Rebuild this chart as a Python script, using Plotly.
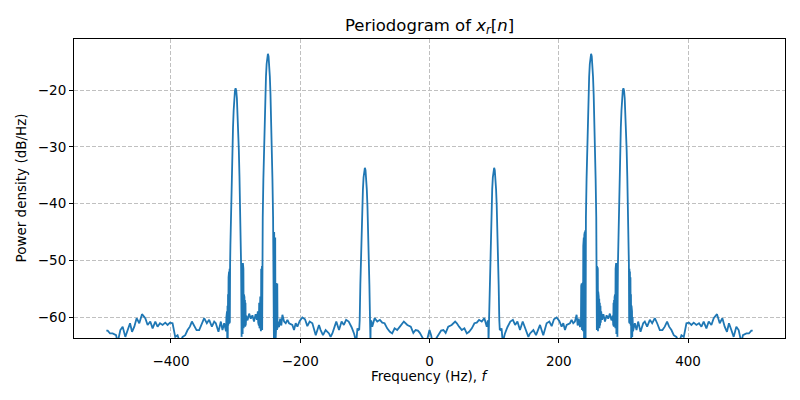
import plotly.graph_objects as go

# Positive-frequency half of the periodogram (spectrum of a real signal is symmetric)
freq_hz_pos = [
    0, 2.5, 4.7, 8, 11.5, 15, 18, 21.5, 25, 29, 34.3, 39.7, 42.3, 45.8, 50, 54, 57.7, 61.3,
    65.5, 69.5, 73.1, 76.7, 80.8, 84.9, 88.6, 90.2, 91.0, 91.3,
    92, 93, 94, 95, 96, 97, 98, 99, 100, 101, 102, 103, 104, 105, 106, 107, 108,
    108.7, 110, 111.5, 113.3, 116.5, 120.5, 125, 129, 132.5, 136, 140, 144.2, 146.8,
    150.3, 153, 155.5, 160.7, 164.8, 168.4, 171, 176, 181.2, 185.4, 189, 192.6, 196.7,
    200.8, 204.4, 207, 209.6, 212.2, 217.3, 219.8, 222.4, 225, 227.6, 229.2, 231, 232.8, 234.3,
    234.7, 235.1, 235.5, 235.9, 236.3, 236.7, 237.1, 237.5,
    237.9, 238.3, 238.7, 239.1, 239.5, 239.9, 240.3, 240.7, 241.1, 241.5, 241.9,
    242, 243, 244, 245, 246, 247, 248, 249, 250, 251, 252, 253, 254, 255, 256, 257, 258,
    258.3, 258.6, 258.9, 259.2, 259.5, 259.8, 260.1, 260.4, 260.7,
    261.0, 261.4, 261.8, 262.2, 262.6, 263.0, 263.5, 264.0, 264.5, 265.0, 265.6,
    267, 269, 271.5, 274, 276.5, 279, 281.5, 283.5,
    284.3, 284.7, 285.1, 285.5, 285.9, 286.3, 286.7, 287.1, 287.5,
    287.9, 288.3, 288.7, 289.1, 289.5, 289.9, 290.3, 290.7,
    291.5, 292, 293, 294, 295, 296, 297, 298, 299, 300, 301, 302, 303, 304, 305, 306, 307, 308, 308.5,
    308.9, 309.3, 309.7, 310.1, 310.5, 310.9, 311.3,
    311.7, 312.1, 312.5, 312.9, 313.3, 313.7, 314.2, 314.8,
    317.7, 320.3, 322.8, 326.5, 330.6, 333.1, 336.7, 340.9, 344.5, 348.6, 352.2, 356.3,
    360.4, 364, 367.6, 370.7, 374.3, 377.9, 382, 386.1, 389.8, 393.4, 397.5, 401.5,
    405.2, 408.8, 412.9, 417, 420.7, 424.2, 428.4, 432, 436.1, 439.7, 444.8, 449,
    453.1, 456.7, 460.2, 463.3, 467, 470.6, 474.7, 478.3, 482.5, 484.9, 490.2, 494.2,
    497.9, 500,
]
psd_db_pos = [
    -62.3, -63.2, -64.5, -64.2, -63.5, -62.8, -62.4, -62.3, -62.8, -61.7, -61.4, -60.8, -61.1, -61.7, -62.3, -62.0, -62.9, -62.6,
    -62.0, -61.1, -61.0, -60.5, -60.8, -60.2, -61.7, -60.6, -61.0, -64.5,
    -60.6, -54.3, -48.8, -44.2, -40.4, -37.5, -35.4, -34.1, -33.7, -34.1, -35.4, -37.5, -40.4, -44.2, -48.8, -54.3, -60.6,
    -62.2, -62.3, -62.0, -64.5, -63.0, -61.8, -60.8, -60.5, -61.4, -60.8, -62.3, -60.8, -61.7,
    -62.9, -63.5, -62.9, -62.3, -63.2, -62.3, -61.4, -63.2, -61.1, -60.8, -61.6, -60.4, -60.1,
    -60.7, -61.7, -61.1, -62.3, -61.4, -61.1, -60.5, -61.1, -60.8, -59.6, -61.5, -60.3, -61.8, -60.8,
    -54.5, -62.0, -54.1, -62.3, -54.5, -61.8, -54.0, -62.5,
    -47.5, -64.5, -46.0, -64.5, -45.5, -64.5, -45.0, -64.5, -44.7, -64.5, -45.0,
    -42.4, -35.65, -29.8, -24.85, -20.8, -17.65, -15.4, -14.05, -13.6, -14.05, -15.4, -17.65, -20.8, -24.85, -29.8, -35.65, -42.4,
    -62.0, -45.5, -62.3, -51.0, -62.3, -51.2, -62.0, -51.5, -62.5,
    -55.5, -62.0, -56.4, -61.8, -56.8, -62.0, -57.5, -61.5, -58.0, -61.0, -59.0,
    -60.5, -59.5, -60.8, -59.7, -60.3, -59.4, -60.6, -59.8,
    -61.5, -57.5, -61.7, -57.0, -61.5, -56.5, -61.8, -56.0, -62.0,
    -51.5, -62.5, -50.5, -63.0, -50.5, -63.0, -50.8, -63.5,
    -50.8, -47.2, -40.8, -35.2, -30.5, -26.6, -23.6, -21.4, -20.1, -19.7, -20.1, -21.4, -23.6, -26.6, -30.5, -35.2, -40.8, -47.2, -50.8,
    -61.0, -51.5, -61.2, -52.0, -61.0, -53.0, -61.5,
    -56.0, -64.5, -58.0, -64.5, -59.0, -63.5, -60.0, -62.5,
    -61.1, -62.3, -60.8, -62.6, -61.1, -60.8, -61.7, -60.5, -61.1, -60.2, -61.1, -62.3,
    -62.3, -61.7, -60.8, -61.7, -62.3, -63.2, -63.5, -64.5, -63.2, -63.5, -61.1, -61.0,
    -61.4, -61.0, -61.4, -61.1, -61.7, -60.8, -62.0, -60.8, -61.4, -60.2, -59.5, -61.1,
    -60.2, -61.7, -62.6, -61.1, -62.3, -63.5, -61.7, -62.3, -64.5, -63.2, -62.9, -62.9,
    -62.4, -62.4,
]

x_ticks = [-400, -200, 0, 200, 400]
y_ticks = [-60, -50, -40, -30, -20]
x_range = [-550, 550]
y_range = [-63.7, -11.0]

# full spectrum: mirror the positive half
freq_hz = [-f for f in reversed(freq_hz_pos[1:])] + freq_hz_pos
psd_db = list(reversed(psd_db_pos[1:])) + psd_db_pos

FONT = "DejaVu Sans"
# the page body has an 8px margin; size the figure so the plot lands where the reference is
W, H = 792, 392
ML, MR, MT, MB = 66, 15, 31, 62

fig = go.Figure()
fig.add_trace(go.Scatter(x=freq_hz, y=psd_db, mode="lines",
                         line=dict(color="#1f77b4", width=1.8), showlegend=False))

axis_common = dict(showline=True, mirror=True, linecolor="black", linewidth=1,
                   ticks="outside", ticklen=4, tickwidth=1, tickcolor="black",
                   showgrid=True, gridcolor="#c0c0c0", gridwidth=1, griddash="4px,2px",
                   zeroline=False, automargin=False,
                   tickfont=dict(family=FONT, size=13.5, color="black"))

fig.update_xaxes(range=x_range, tickvals=x_ticks, ticklabelstandoff=7, **axis_common)
fig.update_yaxes(range=y_range, tickvals=y_ticks, **axis_common)

plot_w = W - ML - MR
plot_h = H - MT - MB
fig.update_layout(
    width=W, height=H,
    margin=dict(l=ML, r=MR, t=MT, b=MB, autoexpand=False),
    paper_bgcolor="white", plot_bgcolor="white",
    font=dict(family=FONT, color="black"),
    title=dict(text="Periodogram of <i>x</i><sub><i>r</i></sub>[<i>n</i>]",
               x=0.5, xref="paper", xanchor="center",
               y=1 - 17 / H, yref="container", yanchor="middle",
               font=dict(family=FONT, size=16.5, color="black")),
    annotations=[
        dict(text="Frequency (Hz), <i>f</i>", xref="paper", yref="paper",
             x=0.5, y=-38 / plot_h, xanchor="center", yanchor="middle",
             showarrow=False, font=dict(family=FONT, size=13.5, color="black")),
        dict(text="Power density (dB/Hz)", xref="paper", yref="paper",
             x=-54 / plot_w, y=0.5, xanchor="center", yanchor="middle", textangle=-90,
             showarrow=False, font=dict(family=FONT, size=13.5, color="black")),
    ],
)

fig.write_html("out.html")
